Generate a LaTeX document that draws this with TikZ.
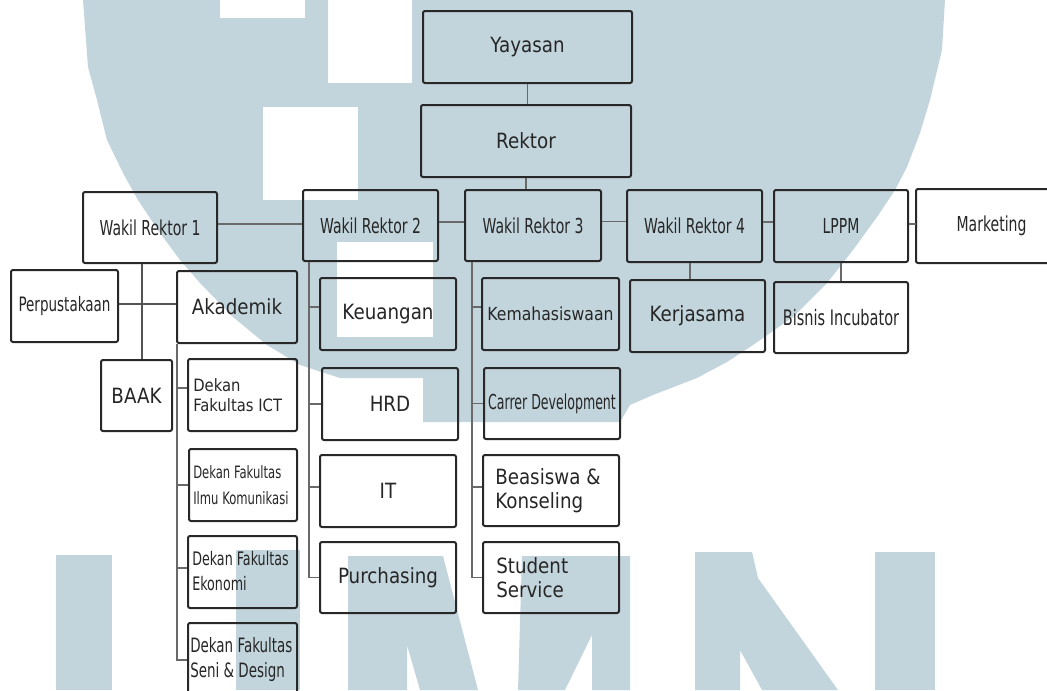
\documentclass[tikz,border=0pt]{standalone}
\usepackage{fontspec}
\usetikzlibrary{calc}
\newfontfamily\tah[FakeStretch=0.87]{DejaVu Sans}
\newfontfamily\cnd[FakeStretch=0.68]{DejaVu Sans}
\newfontfamily\cndn[FakeStretch=0.61]{DejaVu Sans}
\definecolor{wm}{RGB}{195,213,220}
\definecolor{bord}{RGB}{40,40,40}
\definecolor{conn}{RGB}{105,105,105}
\definecolor{txt}{RGB}{38,38,38}
\begin{document}
\begin{tikzpicture}[x=0.75pt,y=-0.75pt,
  bx/.style={draw=bord, line width=1.5pt, rounded corners=1.5pt, inner sep=0pt, text=txt, align=center},
  sz/.style 2 args={minimum width={#1*0.75pt}, minimum height={#2*0.75pt}},
  lt/.style={anchor=west, inner sep=0pt, align=flush left, text=txt},
  ln/.style={draw=conn, line width=0.8pt},
  lnd/.style={draw=bord!80, line width=1.1pt},
  ftm/.style={font={\tah\fontsize{15.75}{18}\selectfont}},
  fcn/.style={font={\cnd\fontsize{15.45}{18}\selectfont}},
]
\useasboundingbox (0,0) rectangle (1047,690);
\clip (0,0) rectangle (1047,690);

% ---- watermark ----
\fill[wm] (83,0) -- (88,67) -- (97,100) -- (107,140) -- (123,173) -- (138,200) -- (160,233)
  -- (180,260) -- (200,283) -- (233,317) -- (267,345) -- (300,365) -- (340,378) -- (423,378)
  -- (423,422) -- (620,422) -- (630,405) -- (653,395) -- (697,378) -- (727,362) -- (753,345)
  -- (793,317) -- (827,283) -- (853,250) -- (877,217) -- (895,190) -- (907,167) -- (920,133)
  -- (930,100) -- (942,50) -- (945,0) -- cycle;
\fill[white] (220,0) rectangle (305,18);
\fill[white] (328,0) rectangle (412,83);
\fill[white] (263,107) rectangle (358,200);
\fill[white] (337,242) rectangle (433,337);
% U
\fill[wm] (56,555) rectangle (112,690);
\fill[wm] (236,550) rectangle (300,690);
% M
\fill[wm] (348,556) -- (443,556) -- (478,690) -- (420,690) -- (407,645) -- (407,690) -- (348,690) -- cycle;
\fill[wm] (522,556) -- (630,556) -- (630,690) -- (592,690) -- (592,635) -- (565,690) -- (518,690) -- cycle;
% N
\fill[wm] (695,552) -- (752,552) -- (758,578) -- (838,690) -- (762,690) -- (740,650) -- (740,690) -- (695,690) -- cycle;
\fill[wm] (875,552) rectangle (935,690);

% ---- boxes ----
\node[bx,ftm,sz={209}{72}] (Y) at (527.5,47) {Yayasan};
\node[bx,ftm,sz={210}{72}] (R) at (526,141) {Rektor};
\node[bx,fcn,sz={134}{71}] (W1) at (150,227.5) {Wakil Rektor 1};
\node[bx,fcn,sz={135}{71}] (W2) at (370.5,225.5) {Wakil Rektor 2};
\node[bx,fcn,sz={136}{71}] (W3) at (533,225.5) {Wakil Rektor 3};
\node[bx,fcn,sz={135}{72}] (W4) at (694.5,226) {Wakil Rektor 4};
\node[bx,fcn,sz={134}{72}] (LP) at (841,226) {LPPM};
\node[bx,draw=none,sz={163}{72}] (MK) at (998.5,226) {};
\draw[draw=bord, line width=1.5pt, rounded corners=1.5pt] (MK.north east) -- (MK.north west) -- (MK.south west) -- (MK.south east);
\node[text=txt,fcn,inner sep=0pt] (MKt) at (991.5,226) {Marketing};

\node[bx,sz={107}{72},font={\cnd\fontsize{14.9}{18}\selectfont}] (P) at (64.5,306) {Perpustakaan};
\node[bx,ftm,sz={120}{72}] (A) at (237,307) {Akademik};
\node[bx,ftm,sz={71}{71}] (BA) at (136.5,395.5) {BAAK};

\node[bx,sz={109}{72}] (D1) at (242.5,395) {};
\node[lt,font={\tah\fontsize{12.75}{14.5}\selectfont}] (D1t) at ($(D1.west)+(6,0)$) {Dekan\\Fakultas ICT};
\node[bx,sz={108}{72}] (D2) at (243,485) {};
\node[lt,font={\cnd\fontsize{12.8}{19.5}\selectfont}] (D2t) at ($(D2.west)+(5,0)$) {Dekan Fakultas\\Ilmu Komunikasi};
\node[bx,sz={109}{72}] (D3) at (242.5,572) {};
\node[lt,font={\cnd\fontsize{14}{18.75}\selectfont}] (D3t) at ($(D3.west)+(5,-1)$) {Dekan Fakultas\\Ekonomi};
\node[bx,sz={109}{74}] (D4) at (242.5,660) {};
\node[lt,font={\cnd\fontsize{14.85}{18.75}\selectfont}] (D4t) at ($(D4.west)+(3,0)$) {Dekan Fakultas\\Seni \& Design};

\node[bx,ftm,sz={136}{72}] (K) at (388,314) {Keuangan};
\node[bx,ftm,sz={136}{72}] (H) at (390,404) {HRD};
\node[bx,ftm,sz={136}{72}] (IT) at (388,491) {IT};
\node[bx,ftm,sz={136}{71}] (PU) at (388,577.5) {Purchasing};

\node[bx,sz={137}{72},font={\tah\fontsize{13.5}{16}\selectfont}] (KM) at (550.5,314) {Kemahasiswaan};
\node[bx,sz={136}{71},font={\cndn\fontsize{15.45}{18}\selectfont}] (CD) at (552,403.5) {Carrer Development};
\node[bx,sz={136}{71}] (BK) at (551,490.5) {};
\node[lt,ftm] (BKt) at ($(BK.west)+(13,0)$) {Beasiswa \&\\Konseling};
\node[bx,sz={136}{71}] (SS) at (551,577.5) {};
\node[lt,ftm] (SSt) at ($(SS.west)+(14,0)$) {Student\\Service};

\node[bx,ftm,sz={135}{72}] (KJ) at (697.5,316) {Kerjasama};
\node[bx,sz={134}{71},font={\cnd\fontsize{16}{18}\selectfont}] (BI) at (841,317.5) {Bisnis Incubator};

% ---- connectors ----
\draw[ln] (Y.south) -- (Y.south |- R.north);
\draw[ln] (R.south) -- (R.south |- W3.north);
\coordinate (h1) at ($(W1.east)+(0,-3.5)$);
\coordinate (h2) at ($(W2.east)+(0,-3.5)$);
\coordinate (h3) at ($(W3.east)+(0,-4)$);
\coordinate (h4) at ($(W4.east)+(0,-4)$);
\coordinate (h5) at ($(LP.east)+(0,-2)$);
\draw[ln] (h1) -- (h1 -| W2.west);
\draw[ln] (h2) -- (h2 -| W3.west);
\draw[ln] (h3) -- (h3 -| W4.west);
\draw[ln] (h4) -- (h4 -| LP.west);
\draw[ln] (h5) -- (h5 -| MK.west);

% Wakil Rektor 1
\coordinate (b0) at ($(BA.north)+(5.5,0)$);
\draw[lnd] (b0) -- (b0 |- W1.south);
\coordinate (p0) at ($(P.east)+(0,-2)$);
\draw[lnd] (p0) -- (p0 -| A.west);

% Akademik
\coordinate (a0) at ($(A.south west)+(1,0)$);
\coordinate (d1) at ($(D1.west)+(0,-7)$);
\coordinate (d3) at ($(D3.west)+(0,-4)$);
\draw[ln] (a0) -- (a0 |- D4.west) -- (D4.west);
\draw[ln] (d1) -- (d1 -| a0);
\draw[ln] (D2.west) -- (D2.west -| a0);
\draw[ln] (d3) -- (d3 -| a0);

% Wakil Rektor 2
\coordinate (w20) at ($(W2.south west)+(7,0)$);
\coordinate (k1) at ($(K.west)+(0,-7)$);
\coordinate (k3) at ($(IT.west)+(0,-4)$);
\draw[ln] (w20) -- (w20 |- PU.west) -- (PU.west);
\draw[ln] (k1) -- (k1 -| w20);
\draw[ln] (H.west) -- (H.west -| w20);
\draw[ln] (k3) -- (k3 -| w20);

% Wakil Rektor 3
\coordinate (w30) at ($(W3.south west)+(8,0)$);
\coordinate (m1) at ($(KM.west)+(0,-7)$);
\coordinate (m3) at ($(BK.west)+(0,-3.5)$);
\draw[ln] (w30) -- (w30 |- SS.west) -- (SS.west);
\draw[ln] (m1) -- (m1 -| w30);
\draw[ln] (CD.west) -- (CD.west -| w30);
\draw[ln] (m3) -- (m3 -| w30);

% Wakil Rektor 4 and LPPM
\coordinate (w40) at ($(W4.south)+(-4.5,0)$);
\draw[ln] (w40) -- (w40 |- KJ.north);
\draw[ln] (LP.south) -- (LP.south |- BI.north);
\end{tikzpicture}
\end{document}
